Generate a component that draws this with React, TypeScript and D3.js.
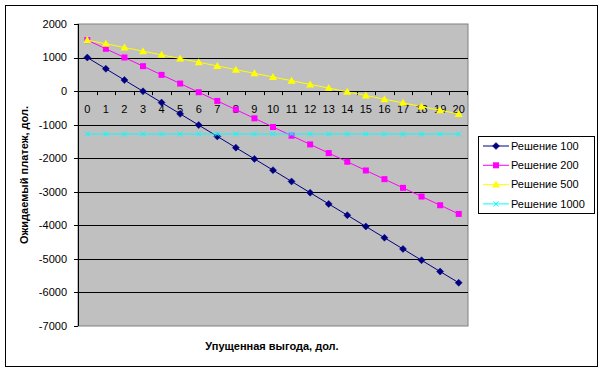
import React from "react";
import * as d3 from "d3";

const categories = Array.from({ length: 21 }, (_, i) => String(i));
const seriesNames = ["Решение 100", "Решение 200", "Решение 500", "Решение 1000"];
const s100 = [1000, 665, 329, -6, -342, -678, -1013, -1349, -1685, -2020, -2356, -2692, -3027, -3363, -3698, -4034, -4370, -4705, -5041, -5377, -5712];
const s200 = [1520, 1261, 1002, 743, 484, 225, -34, -293, -552, -811, -1070, -1329, -1588, -1847, -2106, -2365, -2624, -2883, -3142, -3401, -3660];
const s500 = [1520, 1410, 1300, 1190, 1080, 970, 860, 750, 640, 530, 420, 310, 200, 90, -20, -130, -240, -350, -460, -570, -680];
const s1000 = [-1280, -1280, -1280, -1280, -1280, -1280, -1280, -1280, -1280, -1280, -1280, -1280, -1280, -1280, -1280, -1280, -1280, -1280, -1280, -1280, -1280];
const yTicks = [2000, 1000, 0, -1000, -2000, -3000, -4000, -5000, -6000, -7000];
const colors = ["#000080", "#FF00FF", "#FFFF00", "#00FFFF"];
const markers = ["diamond", "square", "triangle", "x"];

const font = "Arial, 'Liberation Sans', sans-serif";

function Marker({ type, x, y, color }: { type: string; x: number; y: number; color: string }) {
  if (type === "diamond") {
    const r = 3.5;
    return <path d={`M${x},${y - r}L${x + r},${y}L${x},${y + r}L${x - r},${y}Z`} fill={color} stroke={color} strokeWidth={0.5} />;
  }
  if (type === "square") {
    return <rect x={x - 3} y={y - 3} width={6} height={6} fill={color} />;
  }
  if (type === "triangle") {
    return <path d={`M${x},${y - 4}L${x + 4},${y + 3}L${x - 4},${y + 3}Z`} fill={color} />;
  }
  const r = 2.5;
  return <path d={`M${x - r},${y - r}L${x + r},${y + r}M${x - r},${y + r}L${x + r},${y - r}`} stroke={color} strokeWidth={1} />;
}

export default function App() {
  const W = 604, H = 373;
  const plot = { left: 78, right: 468, top: 24, bottom: 326 };
  const x = d3.scaleBand().domain(categories).range([plot.left, plot.right]);
  const y = d3.scaleLinear().domain([-7000, 2000]).range([plot.bottom, plot.top]);
  const data = [s100, s200, s500, s1000];
  const line = d3.line<number>().x((_, i) => x(categories[i])! + x.bandwidth() / 2).y((d) => y(d));
  const y0 = y(0);

  return (
    <svg width={W} height={H} style={{ position: "absolute", left: 0, top: 0, fontFamily: font }}>
      <rect x={0} y={0} width={W} height={H} fill="#fff" />
      <rect x={5.5} y={5.5} width={592} height={361} fill="#fff" stroke="#000" />
      <rect x={plot.left} y={plot.top} width={plot.right - plot.left} height={plot.bottom - plot.top} fill="#C0C0C0" stroke="#808080" />
      {yTicks.map((t) => (
        <g key={t}>
          {t !== 2000 && t !== -7000 && (
            <line x1={plot.left} x2={plot.right} y1={Math.round(y(t)) + 0.5} y2={Math.round(y(t)) + 0.5} stroke="#000" />
          )}
          <line x1={plot.left - 4} x2={plot.left} y1={Math.round(y(t)) + 0.5} y2={Math.round(y(t)) + 0.5} stroke="#000" />
          <text x={67} y={y(t)} dy="0.35em" textAnchor="end" fontSize={11}>{t}</text>
        </g>
      ))}
      <line x1={plot.left + 0.5} x2={plot.left + 0.5} y1={plot.top} y2={plot.bottom} stroke="#000" />
      {categories.map((c, i) => (
        <g key={c}>
          <line x1={Math.round(x(c)!) + 0.5} x2={Math.round(x(c)!) + 0.5} y1={y0} y2={y0 + 4} stroke="#000" />
          <text x={x(c)! + x.bandwidth() / 2} y={y0 + 18} dy="0.35em" textAnchor="middle" fontSize={11}>{c}</text>
        </g>
      ))}
      <line x1={plot.right - 0.5} x2={plot.right - 0.5} y1={y0} y2={y0 + 4} stroke="#000" />
      {data.map((s, k) => (
        <g key={k}>
          <path d={line(s)!} fill="none" stroke={colors[k]} strokeWidth={1} />
          {s.map((v, i) => (
            <Marker key={i} type={markers[k]} x={x(categories[i])! + x.bandwidth() / 2} y={y(v)} color={colors[k]} />
          ))}
        </g>
      ))}
      <text transform={`translate(28,${(plot.top + plot.bottom) / 2}) rotate(-90)`} textAnchor="middle" fontSize={11} fontWeight="bold">Ожидаемый платеж, дол.</text>
      <text x={272} y={350} textAnchor="middle" fontSize={11} fontWeight="bold">Упущенная выгода, дол.</text>
      <rect x={478.5} y={136.5} width={116} height={77} fill="#fff" stroke="#000" />
      {seriesNames.map((n, k) => {
        const ly = 146 + k * 19.3;
        return (
          <g key={n}>
            <line x1={483} x2={509} y1={ly} y2={ly} stroke={colors[k]} />
            <Marker type={markers[k]} x={496} y={ly} color={colors[k]} />
            <text x={511} y={ly} dy="0.35em" fontSize={11}>{n}</text>
          </g>
        );
      })}
    </svg>
  );
}
